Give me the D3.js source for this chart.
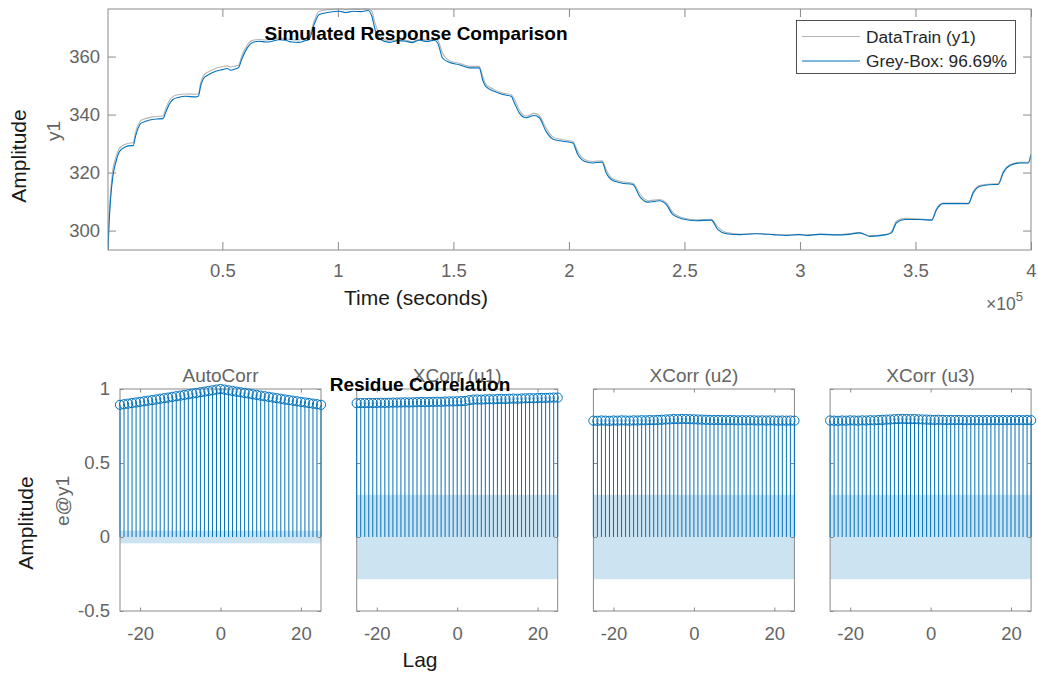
<!DOCTYPE html>
<html>
<head>
<meta charset="utf-8">
<script src="https://cdn.jsdelivr.net/npm/d3@7"></script>
<style>
  html, body { margin: 0; padding: 0; background: #fff; }
  svg { display: block; font-family: "Liberation Sans", Arial, Helvetica, sans-serif; }
</style>
</head>
<body>
<script>
// ---- Simulated response: time stamps (s), measured output and grey-box model output ----
const timeSec = [500, 900, 1600, 2600, 3800, 5200, 6600, 8100, 10300, 11400,
  12400, 13600, 14600, 16800, 19600, 22500, 24300, 25400, 26900, 28600,
  31200, 34100, 38400, 39600, 40600, 42000, 44200, 47100, 50000, 52100,
  53600, 55800, 56900, 58600, 60800, 62700, 65900, 69000, 71600, 74500,
  77400, 80000, 83200, 85500, 87500, 89700, 91900, 96200, 100500, 103500,
  106300, 110000, 113200, 114700, 116100, 118600, 122200, 126000, 129400, 132000,
  135200, 138500, 141700, 143200, 145300, 148200, 152500, 156900, 161200, 162600,
  164100, 167700, 171300, 175000, 176400, 178500, 181500, 185000, 187200, 190100,
  193000, 197300, 201700, 203800, 206700, 210300, 214400, 216100, 218300, 222600,
  227700, 230600, 234200, 239200, 242100, 245000, 249300, 255100, 261600, 264500,
  268100, 273900, 281100, 288300, 294100, 299900, 302800, 308600, 315800, 321000,
  325900, 330200, 337500, 339600, 341800, 345400, 351900, 357000, 359100, 362000,
  367800, 372900, 375000, 377900, 383700, 385800, 388000, 390900, 395200, 398800,
  400000];

const dataTrain = [293.3, 303.0, 313.0, 321.0, 325.0, 328.0, 329.2, 329.8, 330.2, 330.3,
  333.8, 336.6, 337.9, 338.6, 339.2, 339.4, 339.5, 341.8, 344.6, 346.2,
  346.9, 347.1, 347.0, 347.2, 351.0, 353.6, 354.8, 355.9, 356.5, 356.8,
  356.4, 356.8, 357.0, 360.6, 364.0, 365.5, 365.9, 365.7, 366.0, 366.4,
  366.2, 365.8, 365.7, 366.2, 366.9, 372.2, 375.6, 376.2, 376.4, 376.2,
  376.4, 376.3, 376.4, 375.6, 371.5, 366.8, 365.4, 365.8, 365.6, 365.2,
  365.9, 365.6, 366.0, 365.6, 361.2, 358.6, 357.7, 356.6, 356.6, 353.4,
  350.4, 348.6, 347.4, 346.8, 345.3, 341.6, 339.5, 340.4, 339.6, 335.4,
  332.3, 331.3, 330.7, 327.3, 324.5, 323.8, 324.1, 321.0, 318.2, 316.9,
  316.3, 312.8, 310.3, 310.7, 309.6, 306.3, 304.4, 303.7, 303.9, 301.2,
  299.3, 298.8, 299.0, 298.7, 298.5, 298.7, 298.5, 298.8, 298.6, 298.9,
  299.3, 298.2, 298.7, 299.6, 303.3, 304.2, 304.0, 303.8, 307.6, 309.5,
  309.5, 309.4, 313.4, 315.6, 316.1, 316.2, 320.4, 322.7, 323.5, 323.5,
  326.4];

const greyBox = [293.3, 301.5, 310.7, 318.7, 323.3, 326.8, 328.2, 328.9, 329.3, 329.3,
  332.5, 335.4, 336.9, 337.7, 338.3, 338.5, 338.6, 340.6, 343.4, 345.2,
  346.0, 346.3, 346.1, 346.3, 349.8, 352.6, 353.8, 354.9, 355.5, 355.9,
  355.3, 355.8, 356.1, 359.5, 363.0, 364.7, 365.3, 365.0, 365.3, 365.8,
  365.6, 365.0, 364.9, 365.4, 365.9, 371.0, 374.5, 375.3, 375.6, 375.2,
  375.6, 375.5, 375.9, 373.9, 369.3, 365.9, 364.9, 365.5, 365.3, 364.8,
  365.6, 365.2, 365.6, 364.7, 359.5, 358.0, 357.2, 356.1, 356.1, 352.1,
  349.6, 348.0, 346.9, 346.3, 344.0, 340.6, 338.9, 339.7, 338.9, 334.2,
  331.6, 330.8, 330.2, 326.2, 323.9, 323.3, 323.6, 319.9, 317.6, 316.4,
  315.9, 311.8, 309.8, 310.3, 309.0, 305.5, 304.0, 303.4, 303.6, 300.3,
  298.9, 298.6, 298.9, 298.6, 298.3, 298.6, 298.3, 298.7, 298.5, 298.7,
  299.2, 298.0, 298.6, 299.2, 302.7, 303.8, 303.8, 303.6, 307.2, 309.3,
  309.3, 309.3, 313.0, 315.3, 315.9, 315.9, 319.9, 322.4, 323.3, 323.3,
  326.2];

const seriesNames = ["DataTrain (y1)", "Grey-Box: 96.69%"];
const timeTicks = [50000, 100000, 150000, 200000, 250000, 300000, 350000, 400000];
const timeTickLabels = ["0.5", "1", "1.5", "2", "2.5", "3", "3.5", "4"];
const ampTicks = [300, 320, 340, 360];
const ampDomain = [293.3, 376.4];

// ---- Residue correlation: lags and correlation values per panel ----
const lags = [-25, -24, -23, -22, -21, -20, -19, -18, -17, -16, -15, -14, -13, -12, -11, -10,
  -9, -8, -7, -6, -5, -4, -3, -2, -1, 0, 1, 2, 3, 4, 5, 6, 7, 8, 9, 10,
  11, 12, 13, 14, 15, 16, 17, 18, 19, 20, 21, 22, 23, 24, 25];

const autoCorr = [0.893, 0.897, 0.901, 0.905, 0.909, 0.913, 0.917, 0.921, 0.925, 0.929,
  0.934, 0.938, 0.942, 0.947, 0.951, 0.955, 0.960, 0.964, 0.969, 0.973,
  0.978, 0.982, 0.987, 0.991, 0.996, 1.000, 0.996, 0.991, 0.987, 0.982,
  0.978, 0.973, 0.969, 0.964, 0.960, 0.955, 0.951, 0.947, 0.942, 0.938,
  0.934, 0.929, 0.925, 0.921, 0.917, 0.913, 0.909, 0.905, 0.901, 0.897,
  0.893];

const xcorrU1 = [0.904, 0.905, 0.905, 0.906, 0.905, 0.906, 0.907, 0.906, 0.907, 0.908,
  0.908, 0.909, 0.910, 0.909, 0.910, 0.911, 0.912, 0.911, 0.912, 0.913,
  0.914, 0.913, 0.915, 0.916, 0.916, 0.917, 0.918, 0.919, 0.925, 0.928,
  0.929, 0.928, 0.930, 0.931, 0.930, 0.932, 0.933, 0.932, 0.934, 0.935,
  0.934, 0.936, 0.937, 0.938, 0.937, 0.939, 0.940, 0.940, 0.941, 0.942,
  0.942];

const xcorrU2 = [0.786, 0.785, 0.787, 0.786, 0.785, 0.787, 0.786, 0.788, 0.787, 0.786,
  0.788, 0.787, 0.789, 0.788, 0.790, 0.789, 0.791, 0.792, 0.794, 0.795,
  0.797, 0.796, 0.798, 0.797, 0.796, 0.795, 0.794, 0.793, 0.792, 0.791,
  0.790, 0.791, 0.790, 0.789, 0.790, 0.789, 0.788, 0.789, 0.788, 0.789,
  0.788, 0.787, 0.788, 0.787, 0.788, 0.787, 0.786, 0.787, 0.786, 0.787,
  0.786];

const xcorrU3 = [0.787, 0.786, 0.785, 0.787, 0.786, 0.788, 0.787, 0.786, 0.788, 0.787,
  0.789, 0.788, 0.790, 0.791, 0.793, 0.794, 0.796, 0.797, 0.798, 0.797,
  0.796, 0.797, 0.795, 0.794, 0.793, 0.792, 0.791, 0.792, 0.791, 0.790,
  0.791, 0.790, 0.791, 0.790, 0.789, 0.790, 0.789, 0.790, 0.789, 0.790,
  0.789, 0.790, 0.789, 0.790, 0.789, 0.790, 0.789, 0.790, 0.789, 0.790,
  0.789];

const panelTitles = ["AutoCorr", "XCorr (u1)", "XCorr (u2)", "XCorr (u3)"];
const panelValues = [autoCorr, xcorrU1, xcorrU2, xcorrU3];
const confidenceBound = [0.043, 0.285, 0.285, 0.285];
const lagTicks = [-20, 0, 20];
const corrTicks = [-0.5, 0, 0.5, 1];
const corrTickLabels = ["-0.5", "0", "0.5", "1"];

// ---- styling ----
const W = 1038, H = 673;
const BLUE = "#0072BD";
const GREY_LINE = "#b4b4b4";
const AXIS_COLOR = "#8a8a8a";
const TICK_TEXT = "#646464";
const BAND = "#cce3f1";

const svg = d3.select("body").append("svg").attr("width", W).attr("height", H);
svg.append("rect").attr("width", W).attr("height", H).attr("fill", "#fff");

function styleAxis(g, fontSize) {
  g.select(".domain").remove();
  g.selectAll(".tick line").attr("stroke", AXIS_COLOR).attr("stroke-width", 1);
  g.selectAll(".tick text").attr("fill", TICK_TEXT).attr("font-size", fontSize)
    .attr("font-family", "Liberation Sans, Arial, sans-serif");
}

// ================= Simulated response comparison =================
const respBox = { left: 108, right: 1031, top: 9, bottom: 250 };
const xTime = d3.scaleLinear().domain([timeSec[0], 400000]).range([respBox.left, respBox.right]);
const yAmp = d3.scaleLinear().domain(ampDomain).range([respBox.bottom, respBox.top]);

const respG = svg.append("g");
respG.append("defs").append("clipPath").attr("id", "clipResp")
  .append("rect").attr("x", respBox.left).attr("y", respBox.top - 1)
  .attr("width", respBox.right - respBox.left).attr("height", respBox.bottom - respBox.top + 1);

const TL = 8;
respG.append("g").attr("transform", `translate(0,${respBox.bottom})`)
  .call(d3.axisBottom(xTime).tickValues(timeTicks).tickSize(-TL).tickPadding(14)
    .tickFormat((d, i) => timeTickLabels[i]))
  .call(g => styleAxis(g, 18.5));
respG.append("g").attr("transform", `translate(0,${respBox.top})`)
  .call(d3.axisTop(xTime).tickValues(timeTicks).tickSize(-TL).tickFormat(""))
  .call(g => styleAxis(g, 18.5));
respG.append("g").attr("transform", `translate(${respBox.left},0)`)
  .call(d3.axisLeft(yAmp).tickValues(ampTicks).tickSize(-TL).tickPadding(8))
  .call(g => styleAxis(g, 18.5));
respG.append("g").attr("transform", `translate(${respBox.right},0)`)
  .call(d3.axisRight(yAmp).tickValues(ampTicks).tickSize(-TL).tickFormat(""))
  .call(g => styleAxis(g, 18.5));

const line = d3.line().curve(d3.curveMonotoneX)
  .x((d, i) => xTime(timeSec[i])).y(d => yAmp(d));
const plotArea = respG.append("g").attr("clip-path", "url(#clipResp)");
plotArea.append("path").datum(dataTrain).attr("d", line)
  .attr("fill", "none").attr("stroke", GREY_LINE).attr("stroke-width", 1.1);
plotArea.append("path").datum(greyBox).attr("d", line)
  .attr("fill", "none").attr("stroke", BLUE).attr("stroke-width", 1.1);

respG.append("rect").attr("x", respBox.left).attr("y", respBox.top)
  .attr("width", respBox.right - respBox.left).attr("height", respBox.bottom - respBox.top)
  .attr("fill", "none").attr("stroke", AXIS_COLOR).attr("stroke-width", 1);

// legend
const leg = respG.append("g");
leg.append("rect").attr("x", 796.5).attr("y", 20.5).attr("width", 219).attr("height", 53)
  .attr("fill", "#fff").attr("stroke", "#262626").attr("stroke-width", 0.8);
[GREY_LINE, BLUE].forEach((c, i) => {
  const yy = 36.5 + i * 24.5;
  leg.append("line").attr("x1", 802).attr("x2", 860).attr("y1", yy).attr("y2", yy)
    .attr("stroke", c).attr("stroke-width", 1.1);
  leg.append("text").attr("x", 866).attr("y", yy).attr("dy", "0.35em")
    .attr("font-size", 17.3).attr("fill", "#262626").text(seriesNames[i]);
});

// labels
respG.append("text").attr("x", 416).attr("y", 40).attr("text-anchor", "middle")
  .attr("font-size", 19).attr("font-weight", "bold").attr("fill", "#000")
  .text("Simulated Response Comparison");
respG.append("text").attr("x", 416).attr("y", 305).attr("text-anchor", "middle")
  .attr("font-size", 21).attr("fill", "#1a1a1a").text("Time (seconds)");
respG.append("text").attr("transform", "translate(19,156) rotate(-90)")
  .attr("text-anchor", "middle").attr("dy", "0.35em")
  .attr("font-size", 21).attr("fill", "#1a1a1a").text("Amplitude");
respG.append("text").attr("transform", "translate(53,131) rotate(-90)")
  .attr("text-anchor", "middle").attr("dy", "0.35em")
  .attr("font-size", 19).attr("fill", TICK_TEXT).text("y1");
const expo = respG.append("text").attr("x", 986).attr("y", 310)
  .attr("font-size", 17.5).attr("fill", TICK_TEXT);
expo.append("tspan").text("×10");
expo.append("tspan").attr("dy", -9).attr("font-size", 13).text("5");

// ================= Residue correlation panels =================
const corrBox = { top: 389, bottom: 611, width: 201, firstLeft: 120, step: 236.7 };
const yCorr = d3.scaleLinear().domain([-0.5, 1]).range([corrBox.bottom, corrBox.top]);
const BT = 3.5;

panelValues.forEach((vals, p) => {
  const left = corrBox.firstLeft + p * corrBox.step;
  const xLag = d3.scaleLinear().domain([lags[0], lags[lags.length - 1]]).range([left, left + corrBox.width]);
  const g = svg.append("g");

  // confidence band
  const cb = confidenceBound[p];
  g.append("rect").attr("x", xLag(lags[0])).attr("width", xLag(lags[lags.length - 1]) - xLag(lags[0]))
    .attr("y", yCorr(cb)).attr("height", yCorr(-cb) - yCorr(cb)).attr("fill", BAND);

  // axes
  g.append("g").attr("transform", `translate(0,${corrBox.bottom})`)
    .call(d3.axisBottom(xLag).tickValues(lagTicks).tickSize(-BT).tickPadding(15.5)
      .tickFormat(d => d < 0 ? "-" + Math.abs(d) : String(d)))
    .call(a => styleAxis(a, 18.5));
  g.append("g").attr("transform", `translate(0,${corrBox.top})`)
    .call(d3.axisTop(xLag).tickValues(lagTicks).tickSize(-BT).tickFormat(""))
    .call(a => styleAxis(a, 18.5));
  g.append("g").attr("transform", `translate(${left},0)`)
    .call(d3.axisLeft(yCorr).tickValues(corrTicks).tickSize(-BT).tickPadding(10)
      .tickFormat((d, i) => p === 0 ? corrTickLabels[i] : ""))
    .call(a => styleAxis(a, 18.5));
  g.append("g").attr("transform", `translate(${left + corrBox.width},0)`)
    .call(d3.axisRight(yCorr).tickValues(corrTicks).tickSize(-BT).tickFormat(""))
    .call(a => styleAxis(a, 18.5));

  g.append("rect").attr("x", left).attr("y", corrBox.top).attr("width", corrBox.width)
    .attr("height", corrBox.bottom - corrBox.top).attr("fill", "none")
    .attr("stroke", AXIS_COLOR).attr("stroke-width", 1);

  // stems and markers
  g.selectAll("line.stem").data(vals).join("line").attr("class", "stem")
    .attr("x1", (d, i) => xLag(lags[i])).attr("x2", (d, i) => xLag(lags[i]))
    .attr("y1", yCorr(0)).attr("y2", d => yCorr(d))
    .attr("stroke", BLUE).attr("stroke-width", 1);
  g.selectAll("circle.mk").data(vals).join("circle").attr("class", "mk")
    .attr("cx", (d, i) => xLag(lags[i])).attr("cy", d => yCorr(d)).attr("r", 4.6)
    .attr("fill", "none").attr("stroke", BLUE).attr("stroke-width", 1);

  g.append("text").attr("x", left + corrBox.width / 2).attr("y", 382).attr("text-anchor", "middle")
    .attr("font-size", 19).attr("fill", TICK_TEXT).text(panelTitles[p]);
});

svg.append("text").attr("x", 420).attr("y", 391).attr("text-anchor", "middle")
  .attr("font-size", 19).attr("font-weight", "bold").attr("fill", "#000").text("Residue Correlation");
svg.append("text").attr("x", 420).attr("y", 667).attr("text-anchor", "middle")
  .attr("font-size", 21).attr("fill", "#1a1a1a").text("Lag");
svg.append("text").attr("transform", "translate(26,523) rotate(-90)")
  .attr("text-anchor", "middle").attr("dy", "0.35em")
  .attr("font-size", 21).attr("fill", "#1a1a1a").text("Amplitude");
svg.append("text").attr("transform", "translate(62,501) rotate(-90)")
  .attr("text-anchor", "middle").attr("dy", "0.35em")
  .attr("font-size", 19).attr("fill", TICK_TEXT).text("e@y1");
</script>
</body>
</html>
